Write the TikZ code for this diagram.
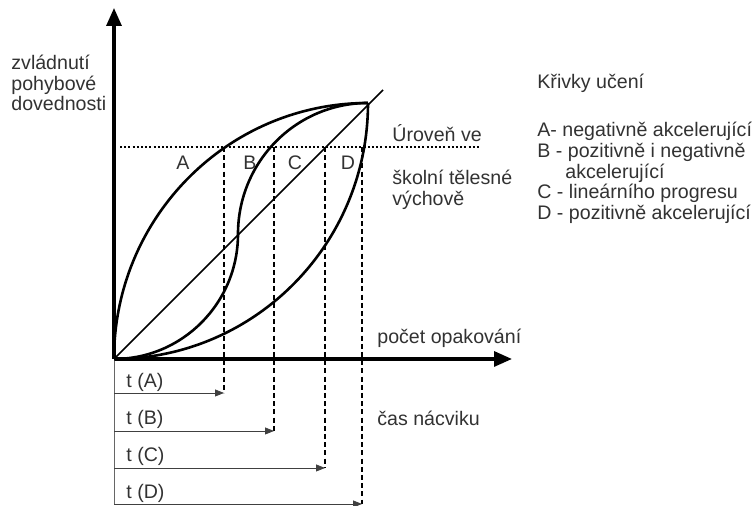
\documentclass[tikz,border=0pt]{standalone}
\usepackage{fontspec}
\setmainfont{Liberation Sans}
\usetikzlibrary{arrows.meta}
\definecolor{inkgray}{RGB}{50,50,50}

\begin{document}
\begin{tikzpicture}[x=0.5pt,y=0.5pt,
    axis/.style={line width=1.6pt,-{Triangle[length=9pt,width=7.5pt]}},
    curve/.style={line width=1.3pt},
    guide/.style={line width=0.6pt,dash pattern=on 2.5pt off 1.6pt},
    timearrow/.style={line width=0.4pt,draw=black!75,-{Triangle[length=4.5pt,width=3.5pt]}},
    txt/.style={text=inkgray,font=\fontsize{9.8}{10.4}\selectfont,inner sep=0pt,anchor=west,align=left}]
            \useasboundingbox (0,0) rectangle (752,506);
            % axes
            \coordinate (O)    at (114,147);
            \coordinate (T)    at (368,403);
            \coordinate (I)    at (238,272);
            \draw[axis] (O) -- (114,498);
            \draw[axis] (O) -- (512,147);
            \draw[line width=0.4pt, black!60] (O) -- (114,2);
            % level line
            \draw[line width=1.2pt, dash pattern=on 1pt off 1.1pt] (120,359) -- (480,359);
            % learning curves
            \draw[curve] (O) .. controls (114,288.4) and (227.7,403) .. (T);
            \draw[curve] (O) .. controls (182.5,147) and (238,203) .. (I)
                             .. controls (238,344.4) and (296.2,403) .. (T);
            \draw[line width=0.8pt] (O) -- (383,416);
            \draw[curve] (O) .. controls (254.3,147) and (368,261.6) .. (T);
            % times
            \coordinate (tA) at (224,113);
            \coordinate (tB) at (274, 75);
            \coordinate (tC) at (325, 38);
            \coordinate (tD) at (362,  2);
            \draw[guide] (224,359) -- (tA);
            \draw[guide] (274,359) -- (tB);
            \draw[guide] (325,359) -- (tC);
            \draw[guide] (362,359) -- (tD);
            \draw[timearrow] (114,113) -- (tA);
            \draw[timearrow] (114, 75) -- (tB);
            \draw[timearrow] (114, 38) -- (tC);
            \draw[timearrow] (114,  2) -- (tD);
            \node[txt] (labA) at (126,124) {t (A)};
            \node[txt] (labB) at (126, 87) {t (B)};
            \node[txt] (labC) at (126, 50) {t (C)};
            \node[txt] (labD) at (126, 13) {t (D)};
            % curve letters
            \node[txt, anchor=center] (cA) at (183,343) {A};
            \node[txt, anchor=center] (cB) at (250,343) {B};
            \node[txt, anchor=center] (cC) at (295,343) {C};
            \node[txt, anchor=center] (cD) at (348,343) {D};
            % captions
            \node[txt] (ylab)  at (11,423)  {zvládnutí\\pohybové\\dovednosti};
            \node[txt] (xlab)  at (377,168) {počet opakování};
            \node[txt] (tlab)  at (377, 88) {čas nácviku};
            \node[txt] (lvl)   at (392,373) {Úroveň ve};
            \node[txt] (lvl2)  at (392,316) {školní tělesné\\výchově};
            \node[txt] (title) at (537,423) {Křivky učení};
            \node[txt] (legend) at (537,333) {A- negativně akcelerující\\B - pozitivně i negativně\\\hspace*{14pt}akcelerující\\C - lineárního progresu\\D - pozitivně akcelerující};
            \end{tikzpicture}
\end{document}
